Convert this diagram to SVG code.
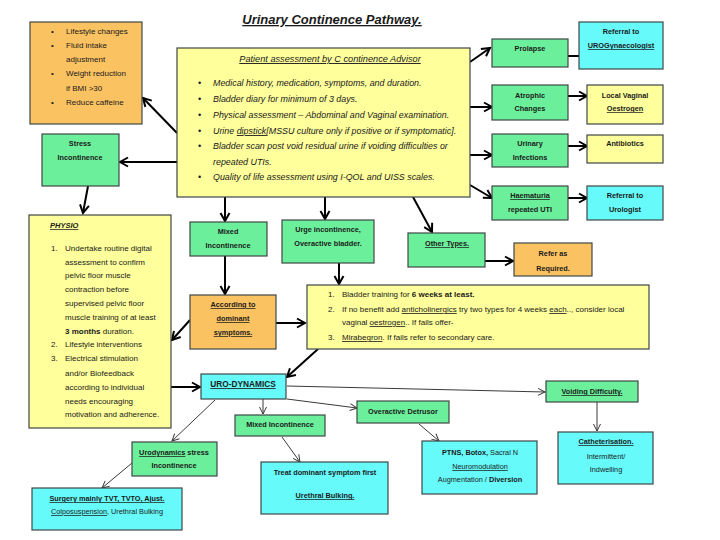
<svg xmlns="http://www.w3.org/2000/svg" width="720" height="540" viewBox="0 0 720 540">
<style>
  text { font-family: "Liberation Sans", Arial, sans-serif; fill: #1a1a1a; }
  .box { stroke: #3e4646; stroke-width: 1.2; }
  .g { fill: #6cef9b; }
  .c { fill: #66fafa; }
  .y { fill: #ffff9c; }
  .o { fill: #fbc262; }
  .t { font-size: 7.3px; font-weight: bold; text-anchor: middle; }
  .r { font-size: 8px; }
  .i { font-size: 8.9px; font-style: italic; }
  .u { text-decoration: underline; }
  .sp { text-decoration: underline dotted #c03030; }
  .b { font-weight: bold; }
  .thick { stroke: #000; stroke-width: 2; fill: none; marker-end: url(#ah); }
  .thin { stroke: #3a3a3a; stroke-width: 1; fill: none; marker-end: url(#ah2); }
</style>
<defs>
  <marker id="ah" markerUnits="userSpaceOnUse" markerWidth="12" markerHeight="12" refX="10" refY="6" orient="auto">
    <path d="M2,1.5 L10,6 L2,10.5" fill="none" stroke="#000" stroke-width="2"/>
  </marker>
  <marker id="ah2" markerUnits="userSpaceOnUse" markerWidth="10" markerHeight="10" refX="8" refY="5" orient="auto">
    <path d="M1,1.5 L8,5 L1,8.5" fill="none" stroke="#3a3a3a" stroke-width="1"/>
  </marker>
</defs>
<rect width="720" height="540" fill="#fff"/>

<text x="332" y="24" font-size="13" font-weight="bold" font-style="italic" text-anchor="middle" class="u">Urinary Continence Pathway.</text>

<g id="connectors">
  <line class="thick" x1="177" y1="133" x2="143" y2="98"/>
  <line class="thick" x1="177" y1="162" x2="120" y2="162"/>
  <line class="thick" x1="88" y1="186" x2="83" y2="213"/>
  <line class="thick" x1="470" y1="62" x2="490" y2="48"/>
  <line class="thick" x1="568" y1="56" x2="588" y2="56"/>
  <line class="thick" x1="470" y1="107" x2="492" y2="107"/>
  <line class="thick" x1="568" y1="96" x2="587" y2="96"/>
  <line class="thick" x1="470" y1="155" x2="492" y2="155"/>
  <line class="thick" x1="568" y1="146" x2="587" y2="146"/>
  <line class="thick" x1="470" y1="185" x2="492" y2="198"/>
  <line class="thick" x1="568" y1="198" x2="587" y2="198"/>
  <line class="thick" x1="225" y1="197" x2="225" y2="221"/>
  <line class="thick" x1="325" y1="197" x2="325" y2="219"/>
  <line class="thick" x1="413" y1="197" x2="432" y2="232"/>
  <line class="thick" x1="485" y1="261" x2="513" y2="261"/>
  <line class="thick" x1="339" y1="263" x2="339" y2="284"/>
  <line class="thick" x1="225" y1="256" x2="225" y2="294"/>
  <line class="thick" x1="276" y1="323" x2="305" y2="323"/>
  <line class="thick" x1="190" y1="320" x2="172" y2="340"/>
  <line class="thick" x1="171" y1="387" x2="200" y2="387"/>
  <line class="thick" x1="318" y1="349" x2="287" y2="377"/>
  <line class="thin" x1="287" y1="386" x2="545" y2="392"/>
  <line class="thin" x1="287" y1="399" x2="357" y2="408"/>
  <line class="thin" x1="263" y1="399" x2="263" y2="414"/>
  <line class="thin" x1="215" y1="400" x2="172" y2="441"/>
  <line class="thin" x1="132" y1="463" x2="102" y2="488"/>
  <line class="thin" x1="282" y1="437" x2="300" y2="462"/>
  <line class="thin" x1="419" y1="424" x2="439" y2="441"/>
  <line class="thin" x1="597" y1="402" x2="597" y2="431"/>
</g>

<g id="assessment">
  <rect class="box y" x="177" y="48" width="293" height="149"/>
  <text x="330" y="62" font-size="9.2" font-style="italic" text-anchor="middle" class="u">Patient assessment  by C continence Advisor</text>
  <g class="i">
    <text x="198" y="86">•</text><text x="213" y="86">Medical history, medication, symptoms, and duration.</text>
    <text x="198" y="102">•</text><text x="213" y="102">Bladder diary for minimum of 3 days.</text>
    <text x="198" y="118">•</text><text x="213" y="118">Physical assessment – Abdominal and Vaginal examination.</text>
    <text x="198" y="134">•</text><text x="213" y="134">Urine <tspan class="sp">dipstick</tspan>[MSSU culture only if positive or if symptomatic].</text>
    <text x="198" y="149">•</text><text x="213" y="149">Bladder scan post void residual urine if voiding difficulties or</text>
    <text x="213" y="165">repeated UTIs.</text>
    <text x="198" y="180">•</text><text x="213" y="180">Quality of life assessment  using I-QOL and UISS scales.</text>
  </g>
</g>

<g id="lifestyle">
  <rect class="box o" x="30" y="22" width="112" height="102"/>
  <g class="r">
    <text x="51" y="34">•</text><text x="66" y="34">Lifestyle changes</text>
    <text x="51" y="48">•</text><text x="66" y="48">Fluid intake</text>
    <text x="66" y="62">adjustment</text>
    <text x="51" y="76">•</text><text x="66" y="76">Weight reduction</text>
    <text x="66" y="91">if BMI &gt;30</text>
    <text x="51" y="105">•</text><text x="66" y="105">Reduce caffeine</text>
  </g>
</g>

<g id="stress">
  <rect class="box g" x="42" y="134" width="77" height="52"/>
  <text class="t" x="80" y="146">Stress</text>
  <text class="t" x="80" y="160">Incontinence</text>
</g>

<g id="physio">
  <rect class="box y" x="29" y="215" width="142" height="213"/>
  <text x="50" y="228" font-size="7.5" font-weight="bold" font-style="italic" class="u">PHYSIO</text>
  <g class="r">
    <text x="51" y="251">1.</text><text x="65" y="251">Undertake routine digital</text>
    <text x="65" y="265">assessment to confirm</text>
    <text x="65" y="278">pelvic floor  muscle</text>
    <text x="65" y="292">contraction  before</text>
    <text x="65" y="306">supervised pelvic floor</text>
    <text x="65" y="320">muscle training of at least</text>
    <text x="65" y="334"><tspan class="b">3 months</tspan> duration.</text>
    <text x="51" y="347">2.</text><text x="65" y="347">Lifestyle  interventions</text>
    <text x="51" y="361">3.</text><text x="65" y="361">Electrical  stimulation</text>
    <text x="65" y="376">and/or Biofeedback</text>
    <text x="65" y="390">according  to individual</text>
    <text x="65" y="404">needs encouraging</text>
    <text x="65" y="417">motivation  and adherence.</text>
  </g>
</g>

<g id="prolapse">
  <rect class="box g" x="492" y="39" width="76" height="28"/>
  <text class="t" x="530" y="51">Prolapse</text>
</g>
<g id="urogyn">
  <rect class="box c" x="579" y="22" width="84" height="47"/>
  <text class="t" x="621" y="34">Referral to</text>
  <text class="t sp" x="621" y="48">UROGynaecologist</text>
</g>
<g id="atrophic">
  <rect class="box g" x="492" y="85" width="76" height="35"/>
  <text class="t" x="530" y="98">Atrophic</text>
  <text class="t" x="530" y="111">Changes</text>
</g>
<g id="oestrogen">
  <rect class="box y" x="587" y="85" width="76" height="39"/>
  <text class="t" x="625" y="98">Local  Vaginal</text>
  <text class="t sp" x="625" y="111">Oestrogen</text>
</g>
<g id="infections">
  <rect class="box g" x="492" y="134" width="76" height="33"/>
  <text class="t" x="530" y="146">Urinary</text>
  <text class="t" x="530" y="160">Infections</text>
</g>
<g id="antibiotics">
  <rect class="box y" x="587" y="135" width="76" height="28"/>
  <text class="t" x="625" y="146">Antibiotics</text>
</g>
<g id="haematuria">
  <rect class="box g" x="492" y="186" width="76" height="34"/>
  <text class="t u" x="530" y="198">Haematuria</text>
  <text class="t" x="530" y="212">repeated UTI</text>
</g>
<g id="urologist">
  <rect class="box c" x="587" y="186" width="76" height="34"/>
  <text class="t" x="625" y="198">Referral to</text>
  <text class="t" x="625" y="212">Urologist</text>
</g>

<g id="mixed">
  <rect class="box g" x="190" y="222" width="77" height="34"/>
  <text class="t" x="228" y="234">Mixed</text>
  <text class="t" x="228" y="248">Incontinence</text>
</g>
<g id="urge">
  <rect class="box g" x="282" y="220" width="92" height="43"/>
  <text class="t" x="328" y="232">Urge incontinence,</text>
  <text class="t" x="328" y="246">Overactive bladder.</text>
</g>
<g id="other">
  <rect class="box g" x="408" y="233" width="77" height="34"/>
  <text class="t u" x="447" y="246">Other Types.</text>
</g>
<g id="refer">
  <rect class="box o" x="514" y="243" width="78" height="33"/>
  <text class="t" x="553" y="256">Refer as</text>
  <text class="t" x="553" y="271">Required.</text>
</g>

<g id="according">
  <rect class="box o" x="190" y="295" width="86" height="54"/>
  <text class="t sp" x="233" y="307">According  to</text>
  <text class="t sp" x="233" y="321">dominant</text>
  <text class="t sp" x="233" y="335">symptoms.</text>
</g>

<g id="bladder">
  <rect class="box y" x="307" y="285" width="342" height="64"/>
  <g class="r" font-size="8">
    <text x="328" y="297">1.</text><text x="342" y="297">Bladder  training for <tspan class="b">6 weeks at least.</tspan></text>
    <text x="328" y="312">2.</text><text x="342" y="312">If no benefit  add <tspan class="sp">anticholinergics</tspan>  try two types for 4 weeks <tspan class="sp">each</tspan>.., consider  local</text>
    <text x="342" y="325">vaginal <tspan class="sp">oestrogen</tspan>.. If fails offer-</text>
    <text x="328" y="340">3.</text><text x="342" y="340"><tspan class="sp">Mirabegron</tspan>. If fails refer to secondary care.</text>
  </g>
</g>

<g id="urodynamics">
  <rect class="box c" x="201" y="374" width="85" height="25"/>
  <text x="243" y="387" font-size="8.3" font-weight="bold" text-anchor="middle" class="u">URO-DYNAMICS</text>
</g>

<g id="voiding">
  <rect class="box g" x="546" y="381" width="92" height="21"/>
  <text class="t u" x="592" y="394">Voiding  Difficulty.</text>
</g>
<g id="detrusor">
  <rect class="box g" x="357" y="401" width="92" height="22"/>
  <text class="t" x="403" y="414">Overactive Detrusor</text>
</g>
<g id="mixed2">
  <rect class="box g" x="235" y="415" width="90" height="21"/>
  <text class="t" x="280" y="427">Mixed Incontinence</text>
</g>
<g id="udstress">
  <rect class="box g" x="132" y="442" width="85" height="34"/>
  <text class="t" x="174" y="455"><tspan class="sp">Urodynamics</tspan> stress</text>
  <text class="t" x="174" y="468">Incontinence</text>
</g>
<g id="surgery">
  <rect class="box c" x="32" y="488" width="150" height="42"/>
  <text class="t u" x="107" y="501">Surgery mainly  TVT, TVTO, Ajust.</text>
  <text x="107" y="514" font-size="7.3" text-anchor="middle"><tspan class="sp">Colposuspension</tspan>,  Urethral Bulking</text>
</g>
<g id="treat">
  <rect class="box c" x="261" y="462" width="127" height="52"/>
  <text class="t" x="325" y="475">Treat dominant  symptom  first</text>
  <text class="t u" x="325" y="498">Urethral Bulking.</text>
</g>
<g id="ptns">
  <rect class="box c" x="422" y="441" width="115" height="53"/>
  <text x="480" y="455" font-size="7.3" text-anchor="middle"><tspan class="b">PTNS, Botox,</tspan> Sacral N</text>
  <text x="480" y="469" font-size="7.3" text-anchor="middle" class="sp">Neuromodulation</text>
  <text x="480" y="482" font-size="7.3" text-anchor="middle">Augmentation   / <tspan class="b">Diversion</tspan></text>
</g>
<g id="cath">
  <rect class="box c" x="558" y="432" width="95" height="52"/>
  <text class="t u" x="606" y="444">Catheterisation.</text>
  <text x="606" y="459" font-size="7.3" text-anchor="middle">Intermittent/</text>
  <text x="606" y="472" font-size="7.3" text-anchor="middle">Indwelling</text>
</g>
</svg>
